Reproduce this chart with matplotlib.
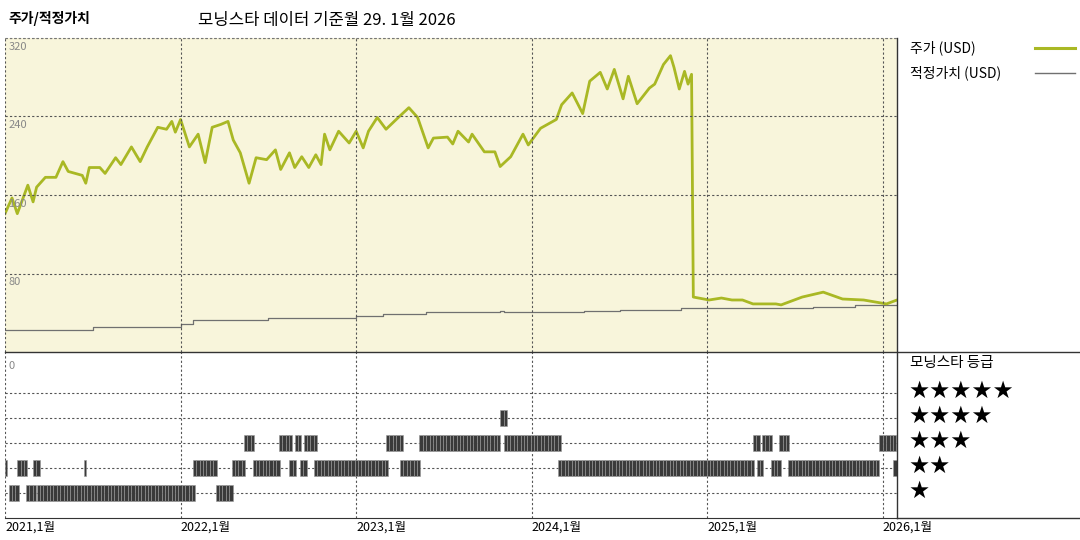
import numpy as np
import matplotlib.pyplot as plt
from matplotlib.lines import Line2D

plt.rcParams['font.family'] = ['Noto Sans CJK KR', 'DejaVu Sans']

# 주가 (USD), 소수 연도
price_t = [2021.00, 2021.04, 2021.07, 2021.13, 2021.16, 2021.18, 2021.23, 2021.29, 2021.33, 2021.36,
           2021.44, 2021.46, 2021.48, 2021.54, 2021.57, 2021.63, 2021.66, 2021.72, 2021.77, 2021.81,
           2021.87, 2021.92, 2021.95, 2021.97, 2022.00, 2022.05, 2022.10, 2022.14, 2022.18, 2022.23,
           2022.27, 2022.30, 2022.34, 2022.39, 2022.43, 2022.49, 2022.54, 2022.57, 2022.62, 2022.65,
           2022.69, 2022.73, 2022.77, 2022.80, 2022.82, 2022.85, 2022.90, 2022.96, 2023.00, 2023.04,
           2023.07, 2023.12, 2023.17, 2023.24, 2023.30, 2023.35, 2023.41, 2023.44, 2023.52, 2023.55,
           2023.58, 2023.64, 2023.66, 2023.73, 2023.79, 2023.82, 2023.88, 2023.95, 2023.98, 2024.05,
           2024.14, 2024.17, 2024.23, 2024.29, 2024.33, 2024.39, 2024.43, 2024.47, 2024.52, 2024.55,
           2024.60, 2024.67, 2024.70, 2024.75, 2024.79, 2024.81, 2024.84, 2024.87, 2024.89, 2024.91,
           2024.92, 2025.01, 2025.08, 2025.14, 2025.20, 2025.26, 2025.39, 2025.42, 2025.54, 2025.66,
           2025.77, 2025.89, 2026.02, 2026.08]
price_v = [141, 157, 141, 170, 153, 168, 178, 178, 194, 184,
           180, 172, 188, 188, 182, 198, 191, 209, 194, 209,
           229, 227, 235, 224, 237, 209, 222, 193, 229, 232,
           235, 216, 203, 172, 198, 196, 206, 186, 203, 188,
           199, 188, 201, 191, 222, 206, 225, 213, 225, 208,
           225, 239, 227, 239, 249, 239, 208, 218, 219, 212,
           225, 214, 222, 204, 204, 189, 199, 222, 211, 228,
           237, 252, 264, 243, 276, 285, 268, 288, 258, 281,
           253, 269, 273, 293, 302, 290, 268, 286, 273, 283,
           56, 53, 55, 53, 53, 49, 49, 48, 56, 61,
           54, 53, 49, 53]

# 적정가치 (USD)
fair_t = [2021.00, 2021.50, 2022.00, 2022.07, 2022.50, 2023.00, 2023.15, 2023.40, 2023.82, 2023.84,
          2024.30, 2024.50, 2024.85, 2025.60, 2025.84, 2026.08]
fair_v = [22, 25, 29, 33, 35, 37, 39, 41, 42, 41, 42, 43, 45, 46, 48, 48]

# 모닝스타 등급 구간 (시작, 끝, 별 수)
rating_start = [2021.00, 2021.02, 2021.07, 2021.12, 2021.16, 2021.18, 2021.45, 2022.07, 2022.20, 2022.29,
                2022.36, 2022.41, 2022.56, 2022.62, 2022.65, 2022.68, 2022.70, 2022.76, 2023.17, 2023.25,
                2023.36, 2023.82, 2023.84, 2024.15, 2025.26, 2025.28, 2025.31, 2025.36, 2025.41, 2025.46,
                2025.98, 2026.06]
rating_end = [2021.01, 2021.07, 2021.11, 2021.16, 2021.18, 2022.07, 2021.46, 2022.20, 2022.28, 2022.36,
              2022.41, 2022.55, 2022.62, 2022.65, 2022.68, 2022.70, 2022.76, 2023.17, 2023.25, 2023.36,
              2023.81, 2023.84, 2024.15, 2025.26, 2025.28, 2025.30, 2025.36, 2025.41, 2025.46, 2025.97,
              2026.06, 2026.08]
rating_val = [2, 1, 2, 1, 2, 1, 2, 2, 1, 2,
              3, 2, 3, 2, 3, 2, 3, 2, 3, 2,
              3, 4, 3, 2, 3, 2, 3, 2, 3, 2,
              3, 2]

years = [2021, 2022, 2023, 2024, 2025, 2026]
xmin, xmax = 2021.0, 2026.08
bg = '#F8F5DB'
olive = '#A9B824'

fig = plt.figure(figsize=(10.8, 5.4), dpi=100)
ax1 = fig.add_axes([5/1080, 1-352/540, 892/1080, 314/540])
ax2 = fig.add_axes([5/1080, 1-518/540, 892/1080, 166/540])

ax1.set_facecolor(bg)
ax1.plot(fair_t, fair_v, color='#707070', lw=0.9, drawstyle='steps-post')
ax1.plot(price_t, price_v, color=olive, lw=2.0)
ax1.set_xlim(xmin, xmax)
ax1.set_ylim(0, 320)
for yv in [80, 160, 240, 320]:
    ax1.axhline(yv, color='#555555', lw=0.8, ls=(0, (2, 2)))
    ax1.text(2021.02, yv - 4, str(yv), color='#888888', fontsize=8, va='top', ha='left')
for y in years:
    ax1.axvline(y, color='#555555', lw=0.8, ls=(0, (2, 2)))
ax1.set_xticks([]); ax1.set_yticks([])
for s in ax1.spines.values():
    s.set_visible(False)

# 등급 막대 (주간)
for s0, s1, r in zip(rating_start, rating_end, rating_val):
    wk = np.arange(s0, s1, 1/52)
    if len(wk) == 0:
        wk = np.array([s0])
    ax2.bar(wk, 0.65, width=max(min(1/52, s1 - s0), 0.004), bottom=r - 0.325, align='edge',
            color='#3a3a3a', edgecolor='#999999', linewidth=0.4)
ax2.set_xlim(xmin, xmax)
ax2.set_ylim(0, 6.66)
for r in range(1, 6):
    ax2.axhline(r, color='#555555', lw=0.8, ls=(0, (2, 2)), zorder=0)
for y in years:
    ax2.axvline(y, color='#555555', lw=0.8, ls=(0, (2, 2)), zorder=0)
ax2.text(2021.02, 6.3, '0', color='#888888', fontsize=8, va='top')
ax2.set_yticks([])
ax2.set_xticks(years)
ax2.set_xticklabels([f'{y},1월' for y in years], fontsize=9, ha='left')
ax2.tick_params(axis='x', length=0, pad=2)
for k, s in ax2.spines.items():
    s.set_visible(k == 'bottom')
ax2.spines['bottom'].set_color('#333333')

# 오른쪽 범례 영역
fig.add_artist(Line2D([897/1080, 897/1080], [1-38/540, 1-518/540], color='#333333', lw=1))
fig.add_artist(Line2D([5/1080, 1], [1-352/540, 1-352/540], color='#333333', lw=1))
fig.add_artist(Line2D([897/1080, 1], [1-518/540, 1-518/540], color='#333333', lw=1))
fig.add_artist(Line2D([5/1080, 897/1080], [1-38/540, 1-38/540], color='#777777', lw=0.8, ls=(0, (2, 2))))
fig.text(910/1080, 1-48/540, '주가 (USD)', fontsize=10, va='center')
fig.add_artist(Line2D([1035/1080, 1075/1080], [1-48/540, 1-48/540], color=olive, lw=2.2))
fig.text(910/1080, 1-73/540, '적정가치 (USD)', fontsize=10, va='center')
fig.add_artist(Line2D([1035/1080, 1075/1080], [1-73/540, 1-73/540], color='#707070', lw=1))
fig.text(910/1080, 1-363/540, '모닝스타 등급', fontsize=10.5, va='center')
for i, n in enumerate([5, 4, 3, 2, 1]):
    fig.text(908/1080, 1-(391 + 25*i)/540, '★' * n, fontsize=17, va='center',
             family=['DejaVu Sans'])

fig.text(8/1080, 1-18/540, '주가/적정가치', fontsize=10, fontweight='bold', va='center')
fig.text(198/1080, 1-20/540, '모닝스타 데이터 기준월 29. 1월 2026', fontsize=12, va='center')

fig.savefig('out.png', dpi=100)
